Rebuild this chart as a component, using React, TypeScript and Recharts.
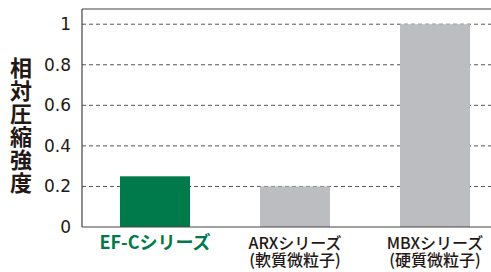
import { BarChart, Bar, XAxis, YAxis, CartesianGrid, ReferenceLine } from "recharts";

const categories = ["EF-Cシリーズ", "ARXシリーズ", "MBXシリーズ"];
const subLabels = ["", "(軟質微粒子)", "(硬質微粒子)"];
const strength = [0.25, 0.2, 1.0];
const yTicks = [0, 0.2, 0.4, 0.6, 0.8, 1];
const yTickLabels = ["0", "0.2", "0.4", "0.6", "0.8", "1"];
const yTitle = "相対圧縮強度";

const FONT = "'Noto Sans CJK JP', 'Noto Sans', sans-serif";
const NUM_FONT = "'DejaVu Sans', sans-serif";
const INK = "#231815";
const GREEN = "#007a4a";
const GRAY = "#bcbdc0";
const Y_MAX = 1.075;

const data = categories.map((name, i) => ({ name, sub: subLabels[i], value: strength[i] }));

// category name plus an optional second line in one text element
function XTick({ x, y, payload, index }: any) {
  const highlight = index === 0;
  const sub = subLabels[index];
  return (
    <text
      x={x}
      y={y + 14}
      textAnchor="middle"
      fontFamily={FONT}
      fontSize={highlight ? 18 : 16}
      fontWeight={highlight ? 700 : 500}
      fill={highlight ? GREEN : INK}
    >
      <tspan x={x}>{payload.value}</tspan>
      {sub && (
        <tspan x={x} dy={17}>
          {sub}
        </tspan>
      )}
    </text>
  );
}

function YTick({ y, payload }: any) {
  const i = yTicks.indexOf(payload.value);
  return (
    <text x={71} y={y + 6} textAnchor="end" fontSize={17} fill={INK} fontFamily={NUM_FONT}>
      {yTickLabels[i] ?? payload.value}
    </text>
  );
}

function YTitle() {
  return (
    <text
      x={21}
      y={57}
      fontFamily={FONT}
      fontSize={22}
      fontWeight={700}
      fill={INK}
      letterSpacing={1}
      style={{ writingMode: "vertical-rl" }}
    >
      {yTitle}
    </text>
  );
}

// plain rectangle, first category green
function BarShape({ x, y, width, height, index }: any) {
  return <rect x={x} y={y} width={width} height={height} fill={index === 0 ? GREEN : GRAY} />;
}

export default function App() {
  return (
    <div style={{ width: 491, height: 272, overflow: "hidden", background: "#fff" }}>
      <style>{`body{margin:0}`}</style>
      <BarChart width={505} height={272} data={data} margin={{ top: 9, right: 0, bottom: 0, left: 0 }}>
        <CartesianGrid vertical={false} stroke="#555" strokeDasharray="4 3" horizontalValues={[0.2, 0.4, 0.6, 0.8, 1]} />
        <XAxis
          dataKey="name"
          height={45}
          padding={{ left: 3, right: 0 }}
          tickLine={false}
          axisLine={{ stroke: "#444", strokeWidth: 1.2 }}
          tick={<XTick />}
          interval={0}
        />
        <YAxis
          width={82}
          domain={[0, Y_MAX]}
          ticks={yTicks}
          tickLine={false}
          axisLine={{ stroke: "#444", strokeWidth: 1.2 }}
          tick={<YTick />}
          label={{ content: () => <YTitle /> }}
        />
        <ReferenceLine y={Y_MAX} stroke="#444" strokeWidth={1.2} />
        <Bar dataKey="value" barSize={70} isAnimationActive={false} shape={<BarShape />} />
      </BarChart>
    </div>
  );
}
